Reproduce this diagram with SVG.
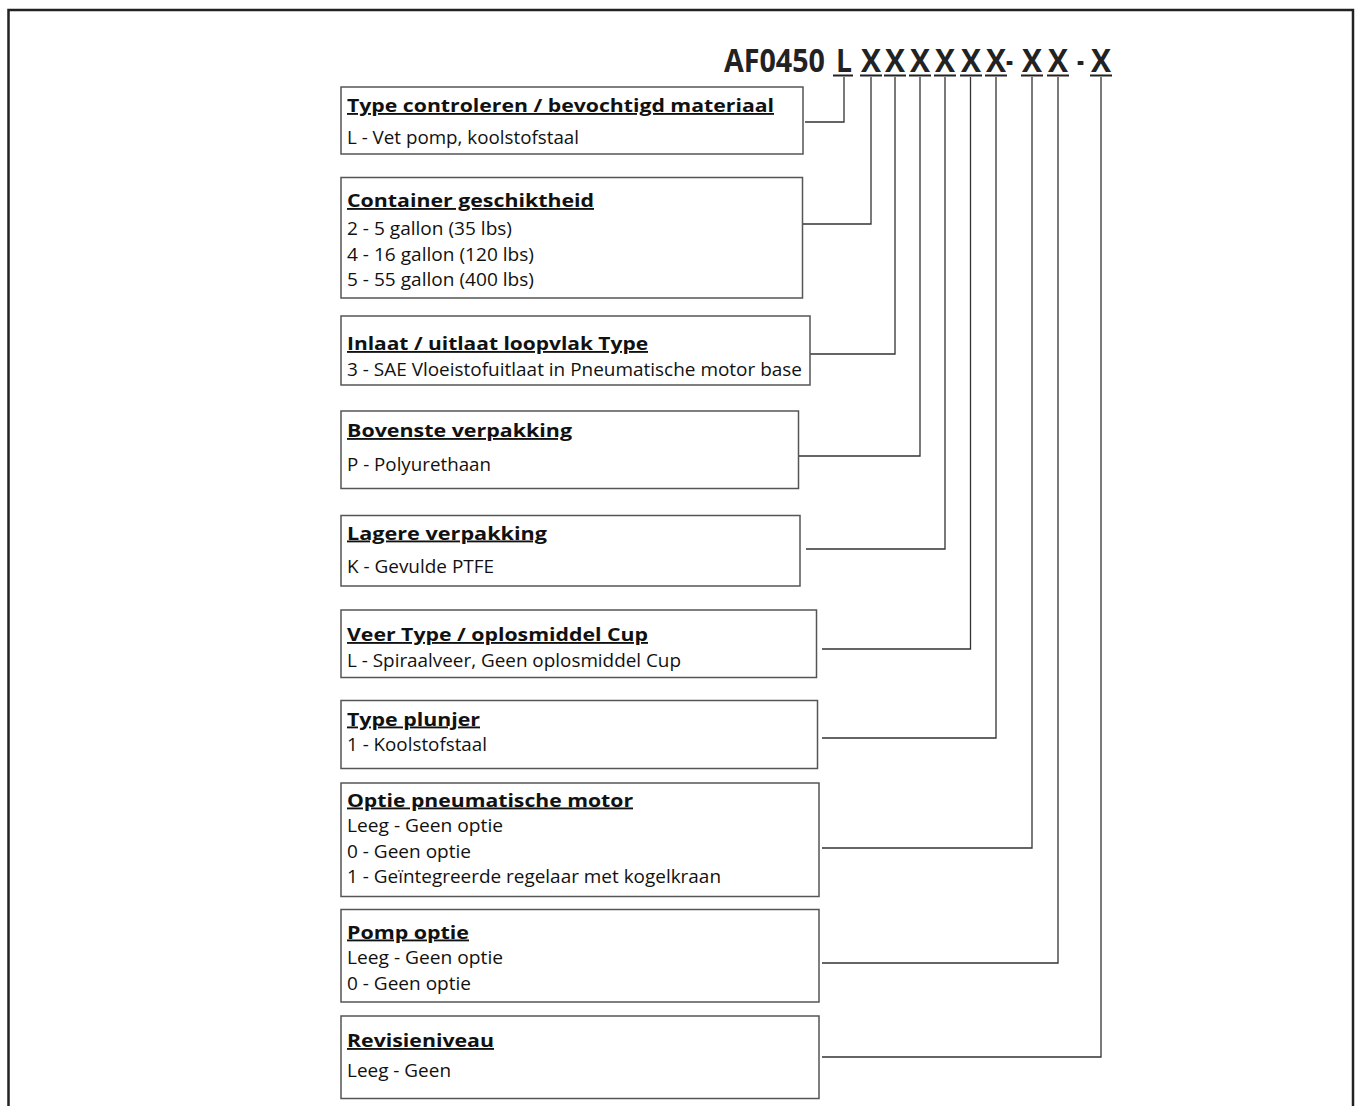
<svg xmlns="http://www.w3.org/2000/svg" width="1357" height="1106" viewBox="0 0 1357 1106">
<style>
.box{fill:#fff;stroke:#555;stroke-width:1.5}
.t{font-family:"Open Sans","Noto Sans",sans-serif;font-size:18.5px;font-weight:700;fill:#111;text-decoration:underline}
.b{font-family:"Open Sans","Noto Sans",sans-serif;font-size:18px;fill:#111}
.h{font-family:"Open Sans","Noto Sans",sans-serif;font-size:33px;font-weight:700;fill:#222}
.c{fill:none;stroke:#333;stroke-width:1.3}
.u{stroke:#222;stroke-width:2}
</style>
<rect x="0" y="0" width="1357" height="1106" fill="#fff"/>
<path d="M8.5 1106 V10 H1353 V1106" fill="none" stroke="#222" stroke-width="2.5"/>
<g id="header">
<text class="h" x="724" y="72" textLength="101" lengthAdjust="spacingAndGlyphs">AF0450</text>
<text class="h" x="836" y="72" textLength="16" lengthAdjust="spacingAndGlyphs">L</text>
<text class="h" x="861" y="72" textLength="20" lengthAdjust="spacingAndGlyphs">X</text>
<text class="h" x="885" y="72" textLength="20" lengthAdjust="spacingAndGlyphs">X</text>
<text class="h" x="910" y="72" textLength="20" lengthAdjust="spacingAndGlyphs">X</text>
<text class="h" x="935" y="72" textLength="20" lengthAdjust="spacingAndGlyphs">X</text>
<text class="h" x="961" y="72" textLength="20" lengthAdjust="spacingAndGlyphs">X</text>
<text class="h" x="986" y="72" textLength="20" lengthAdjust="spacingAndGlyphs">X</text>
<text class="h" x="1006" y="72" textLength="7" lengthAdjust="spacingAndGlyphs">-</text>
<text class="h" x="1022" y="72" textLength="20" lengthAdjust="spacingAndGlyphs">X</text>
<text class="h" x="1048" y="72" textLength="20" lengthAdjust="spacingAndGlyphs">X</text>
<text class="h" x="1077" y="72" textLength="7" lengthAdjust="spacingAndGlyphs">-</text>
<text class="h" x="1091" y="72" textLength="20" lengthAdjust="spacingAndGlyphs">X</text>
<g class="u">
<line x1="833" y1="75.5" x2="853" y2="75.5"/>
<line x1="860" y1="75.5" x2="882" y2="75.5"/>
<line x1="884" y1="75.5" x2="906" y2="75.5"/>
<line x1="909" y1="75.5" x2="931" y2="75.5"/>
<line x1="934" y1="75.5" x2="956" y2="75.5"/>
<line x1="960" y1="75.5" x2="982" y2="75.5"/>
<line x1="985" y1="75.5" x2="1007" y2="75.5"/>
<line x1="1021" y1="75.5" x2="1043" y2="75.5"/>
<line x1="1047" y1="75.5" x2="1069" y2="75.5"/>
<line x1="1090" y1="75.5" x2="1112" y2="75.5"/>
</g>
</g>
<g id="connectors">
<path class="c" d="M844 77 V122 H805"/>
<path class="c" d="M871 77 V224 H803"/>
<path class="c" d="M895 77 V354 H810"/>
<path class="c" d="M920 77 V456 H799"/>
<path class="c" d="M945 77 V549 H806"/>
<path class="c" d="M970.5 77 V649 H822"/>
<path class="c" d="M996 77 V738 H822"/>
<path class="c" d="M1032 77 V848 H822"/>
<path class="c" d="M1058 77 V963 H822"/>
<path class="c" d="M1101 77 V1057 H822"/>
</g>
<g id="node1">
<rect class="box" x="341" y="87" width="462" height="67"/>
<text class="t" x="347" y="112" textLength="427" lengthAdjust="spacingAndGlyphs">Type controleren / bevochtigd materiaal</text>
<text class="b" x="347" y="144" textLength="232" lengthAdjust="spacingAndGlyphs">L - Vet pomp, koolstofstaal</text>
</g>
<g id="node2">
<rect class="box" x="341" y="177.5" width="461.5" height="120.5"/>
<text class="t" x="347" y="207" textLength="247" lengthAdjust="spacingAndGlyphs">Container geschiktheid</text>
<text class="b" x="347" y="235" textLength="165" lengthAdjust="spacingAndGlyphs">2 - 5 gallon (35 lbs)</text>
<text class="b" x="347" y="261" textLength="187" lengthAdjust="spacingAndGlyphs">4 - 16 gallon (120 lbs)</text>
<text class="b" x="347" y="286" textLength="187" lengthAdjust="spacingAndGlyphs">5 - 55 gallon (400 lbs)</text>
</g>
<g id="node3">
<rect class="box" x="341" y="316" width="469" height="69"/>
<text class="t" x="347" y="350" textLength="301" lengthAdjust="spacingAndGlyphs">Inlaat / uitlaat loopvlak Type</text>
<text class="b" x="347" y="376" textLength="455" lengthAdjust="spacingAndGlyphs">3 - SAE Vloeistofuitlaat in Pneumatische motor base</text>
</g>
<g id="node4">
<rect class="box" x="341" y="411" width="457.5" height="77.5"/>
<text class="t" x="347" y="437" textLength="225" lengthAdjust="spacingAndGlyphs">Bovenste verpakking</text>
<text class="b" x="347" y="471" textLength="144" lengthAdjust="spacingAndGlyphs">P - Polyurethaan</text>
</g>
<g id="node5">
<rect class="box" x="341" y="515.5" width="459" height="70.5"/>
<text class="t" x="347" y="539.5" textLength="200" lengthAdjust="spacingAndGlyphs">Lagere verpakking</text>
<text class="b" x="347" y="573" textLength="147" lengthAdjust="spacingAndGlyphs">K - Gevulde PTFE</text>
</g>
<g id="node6">
<rect class="box" x="341" y="610" width="475.5" height="67.5"/>
<text class="t" x="347" y="641" textLength="301" lengthAdjust="spacingAndGlyphs">Veer Type / oplosmiddel Cup</text>
<text class="b" x="347" y="667" textLength="334" lengthAdjust="spacingAndGlyphs">L - Spiraalveer, Geen oplosmiddel Cup</text>
</g>
<g id="node7">
<rect class="box" x="341" y="700.5" width="476.5" height="68"/>
<text class="t" x="347" y="725.5" textLength="133" lengthAdjust="spacingAndGlyphs">Type plunjer</text>
<text class="b" x="347" y="751" textLength="140" lengthAdjust="spacingAndGlyphs">1 - Koolstofstaal</text>
</g>
<g id="node8">
<rect class="box" x="341" y="783" width="478" height="113.5"/>
<text class="t" x="347" y="806.5" textLength="286" lengthAdjust="spacingAndGlyphs">Optie pneumatische motor</text>
<text class="b" x="347" y="832" textLength="156" lengthAdjust="spacingAndGlyphs">Leeg - Geen optie</text>
<text class="b" x="347" y="857.5" textLength="124" lengthAdjust="spacingAndGlyphs">0 - Geen optie</text>
<text class="b" x="347" y="883" textLength="374" lengthAdjust="spacingAndGlyphs">1 - Geïntegreerde regelaar met kogelkraan</text>
</g>
<g id="node9">
<rect class="box" x="341" y="909.5" width="478" height="92.5"/>
<text class="t" x="347" y="938.5" textLength="122" lengthAdjust="spacingAndGlyphs">Pomp optie</text>
<text class="b" x="347" y="963.5" textLength="156" lengthAdjust="spacingAndGlyphs">Leeg - Geen optie</text>
<text class="b" x="347" y="989.5" textLength="124" lengthAdjust="spacingAndGlyphs">0 - Geen optie</text>
</g>
<g id="node10">
<rect class="box" x="341" y="1016" width="478" height="82.5"/>
<text class="t" x="347" y="1047" textLength="147" lengthAdjust="spacingAndGlyphs">Revisieniveau</text>
<text class="b" x="347" y="1077" textLength="104" lengthAdjust="spacingAndGlyphs">Leeg - Geen</text>
</g>
</svg>
